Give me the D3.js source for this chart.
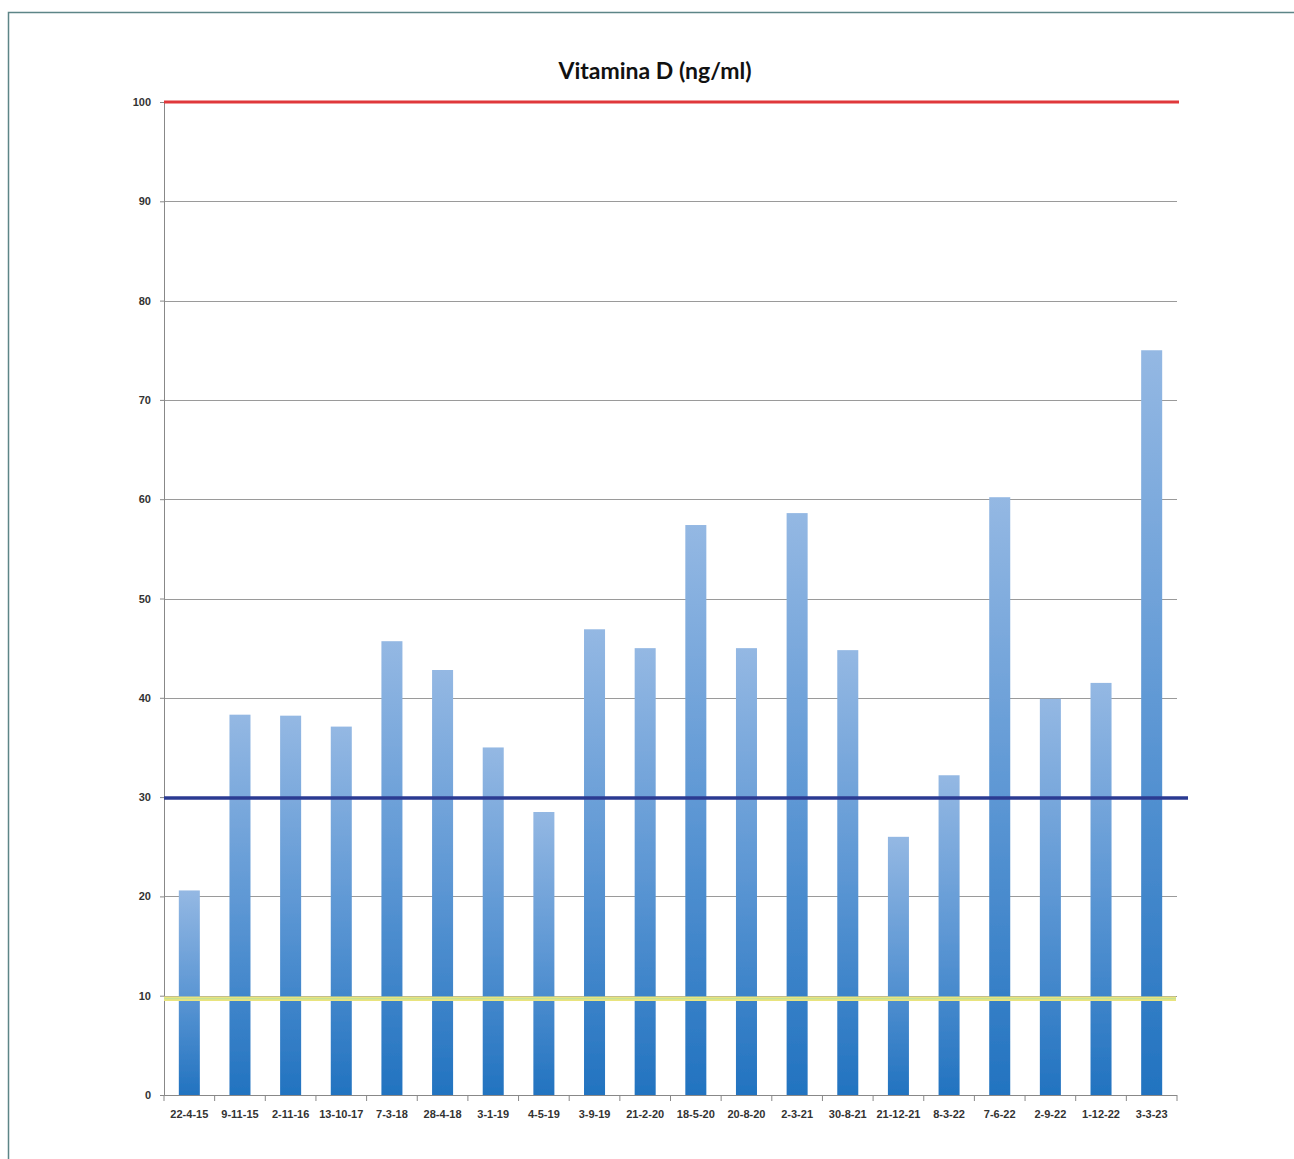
<!DOCTYPE html>
<html>
<head>
<meta charset="utf-8">
<script src="https://cdn.jsdelivr.net/npm/d3@7"></script>
<style>
  html, body { margin: 0; padding: 0; background: #fff; }
  svg { display: block; }
  .lbl { font-family: "Liberation Sans Narrow", "Liberation Sans", Arial, sans-serif; font-size: 11px; font-weight: bold; fill: #333; }
</style>
</head>
<body>
<script>
// Measurement dates and vitamin D levels (ng/ml)
const dates = ["22-4-15","9-11-15","2-11-16","13-10-17","7-3-18","28-4-18","3-1-19","4-5-19",
  "3-9-19","21-2-20","18-5-20","20-8-20","2-3-21","30-8-21","21-12-21","8-3-22","7-6-22",
  "2-9-22","1-12-22","3-3-23"];
const values = [20.6, 38.3, 38.2, 37.1, 45.7, 42.8, 35.0, 28.5, 46.9, 45.0, 57.4, 45.0,
  58.6, 44.8, 26.0, 32.2, 60.2, 39.9, 41.5, 75.0];
const yTicks = [0, 10, 20, 30, 40, 50, 60, 70, 80, 90, 100];

// Reference levels: upper limit, sufficiency, deficiency
const upperLevel = 100;
const sufficiencyLevel = 29.9;
const deficiencyLevel = 9.7;

const W = 1294, H = 1159;
const m = { left: 164, right: W - 1177, top: 102, bottom: H - 1095 };

const svg = d3.select("body").append("svg").attr("width", W).attr("height", H);

// outer frame
svg.append("rect").attr("x", 8.5).attr("y", 12.5).attr("width", W).attr("height", H)
  .attr("fill", "none").attr("stroke", "#5d8587").attr("stroke-width", 1.5);

const x = d3.scaleBand().domain(dates).range([m.left, W - m.right])
  .paddingInner(0.585).paddingOuter(0.2925);
const y = d3.scaleLinear().domain([0, 100]).range([H - m.bottom, m.top]);

// per-bar gradient, light at top, dark at bottom
const defs = svg.append("defs");
const grad = defs.append("linearGradient").attr("id", "barGrad")
  .attr("x1", 0).attr("y1", 0).attr("x2", 0).attr("y2", 1);
grad.append("stop").attr("offset", "0%").attr("stop-color", "#94b8e3");
grad.append("stop").attr("offset", "50%").attr("stop-color", "#5d97d4");
grad.append("stop").attr("offset", "100%").attr("stop-color", "#2273c0");

// soft edge used on bars and reference lines (user-space region so thin lines survive)
const blur = defs.append("filter").attr("id", "soft").attr("filterUnits", "userSpaceOnUse")
  .attr("x", 0).attr("y", 0).attr("width", W).attr("height", H);
blur.append("feGaussianBlur").attr("stdDeviation", 0.6);

// gridlines
svg.append("g").selectAll("line").data(yTicks.filter(d => d > 0)).join("line")
  .attr("x1", m.left).attr("x2", W - m.right)
  .attr("y1", d => Math.round(y(d)) + 0.5).attr("y2", d => Math.round(y(d)) + 0.5)
  .attr("stroke", "#9a9a9a").attr("stroke-width", 1);

// bars
svg.append("g").selectAll("rect").data(values).join("rect")
  .attr("x", (d, i) => x(dates[i]))
  .attr("width", x.bandwidth())
  .attr("y", d => y(d))
  .attr("height", d => y(0) - y(d))
  .attr("fill", "url(#barGrad)")
  .attr("filter", "url(#soft)");

// y axis
const yAxis = svg.append("g").attr("transform", `translate(${m.left},0)`)
  .call(d3.axisLeft(y).tickValues(yTicks).tickSize(4).tickPadding(9));
yAxis.select(".domain").attr("stroke", "#888");
yAxis.selectAll(".tick line").attr("stroke", "#888");
yAxis.selectAll("text").attr("class", "lbl").attr("fill", "#333");

// x axis with ticks at category boundaries
const xAxisG = svg.append("g").attr("transform", `translate(0,${y(0)})`);
xAxisG.append("line").attr("x1", m.left).attr("x2", W - m.right)
  .attr("y1", 0.5).attr("y2", 0.5).attr("stroke", "#888");
const step = x.step();
xAxisG.selectAll("line.tk").data(d3.range(dates.length + 1)).join("line").attr("class", "tk")
  .attr("x1", i => m.left + i * step).attr("x2", i => m.left + i * step)
  .attr("y1", 0).attr("y2", 6).attr("stroke", "#888");
xAxisG.selectAll("text").data(dates).join("text").attr("class", "lbl")
  .attr("x", d => x(d) + x.bandwidth() / 2).attr("y", 23)
  .attr("text-anchor", "middle").text(d => d);

// reference lines
const refs = svg.append("g").attr("filter", "url(#soft)");
refs.append("line").attr("x1", m.left).attr("x2", W - m.right + 2)
  .attr("y1", y(upperLevel)).attr("y2", y(upperLevel))
  .attr("stroke", "#e0383a").attr("stroke-width", 3);

refs.append("line").attr("x1", m.left).attr("x2", W - m.right + 11)
  .attr("y1", y(sufficiencyLevel)).attr("y2", y(sufficiencyLevel))
  .attr("stroke", "#2c3a92").attr("stroke-width", 3.5);

refs.append("line").attr("x1", m.left).attr("x2", W - m.right - 1)
  .attr("y1", y(deficiencyLevel)).attr("y2", y(deficiencyLevel))
  .attr("stroke", "#e9e47e").attr("stroke-width", 4.5);
refs.append("line").attr("x1", m.left).attr("x2", W - m.right - 1)
  .attr("y1", y(deficiencyLevel)).attr("y2", y(deficiencyLevel))
  .attr("stroke", "#bfe09a").attr("stroke-width", 1);

// title
svg.append("text").attr("x", 655).attr("y", 79).attr("text-anchor", "middle")
  .style("font-family", "Lato, 'Open Sans', sans-serif").style("font-weight", "bold")
  .style("font-size", "23px").attr("fill", "#111")
  .text("Vitamina D (ng/ml)");
</script>
</body>
</html>
